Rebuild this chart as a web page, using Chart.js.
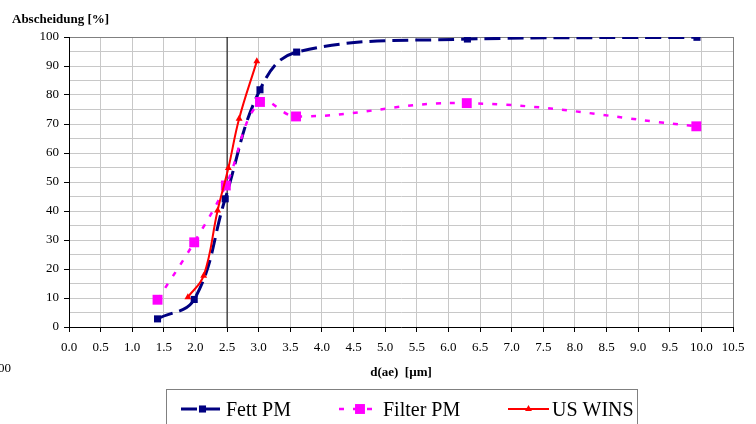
<!DOCTYPE html>
<html><head><meta charset="utf-8">
<script src="https://cdn.jsdelivr.net/npm/chart.js@4/dist/chart.umd.min.js"></script>
<style>html,body{margin:0;padding:0;background:#fff}canvas{display:block}</style>
</head><body>
<canvas id="c" width="756" height="424"></canvas>
<script>
const fettX = [1.40, 1.98, 2.47, 3.02, 3.60, 6.30, 9.93];
const fettY = [2.8, 9.5, 44.2, 81.8, 94.8, 99.3, 99.9];
const filterX = [1.40, 1.98, 2.48, 3.02, 3.59, 6.29, 9.92];
const filterY = [9.4, 29.2, 48.8, 77.6, 72.6, 77.2, 69.2];
const winsX = [1.88, 2.13, 2.35, 2.52, 2.69, 2.97];
const winsY = [10.3, 17.7, 40.2, 54.8, 71.8, 91.6];
const refLineX = 2.5;
const refLineY = [0, 100];
const seriesNames = ['Fett PM', 'Filter PM', 'US WINS'];
const yTitle = 'Abscheidung [%]';
const xTitle = 'd(ae)  [µm]';

const pts = (xs, ys) => xs.map((x, i) => ({x: x, y: ys[i]}));
const SERIF = '"Liberation Serif", "Times New Roman", serif';

const datasets = [
  {label: seriesNames[0], data: pts(fettX, fettY), borderColor: '#000080', backgroundColor: '#000080',
   borderWidth: 3, borderDash: [16, 7], tension: 0.4, pointStyle: 'rect', pointRadius: 5,
   pointBorderWidth: 0, order: 3},
  {label: seriesNames[1], data: pts(filterX, filterY), borderColor: '#FF00FF', backgroundColor: '#FF00FF',
   borderWidth: 2.5, borderDash: [5, 9], tension: 0.4, pointStyle: 'rect', pointRadius: 7,
   pointBorderWidth: 0, order: 2},
  {label: seriesNames[2], data: pts(winsX, winsY), borderColor: '#FF0000', backgroundColor: '#FF0000',
   borderWidth: 2, tension: 0.4, pointStyle: 'triangle', pointRadius: 4,
   pointBorderWidth: 0, order: 1},
  {label: 'ref', data: refLineY.map(y => ({x: refLineX, y: y})), borderColor: '#000', borderWidth: 1,
   pointRadius: 0, tension: 0, order: 4}
];

const legendItems = [
  {ds: 0, x0: 181, x1: 224, tx: 226},
  {ds: 1, x0: 339, x1: 381, tx: 383},
  {ds: 2, x0: 508, x1: 549, tx: 552}
];

function drawMarker(ctx, ds, x, y) {
  ctx.save();
  ctx.fillStyle = ds.backgroundColor;
  ctx.setLineDash([]);
  const r = ds.pointRadius;
  if (ds.pointStyle === 'rect') {
    const s = Math.SQRT1_2 * r;
    ctx.fillRect(x - s, y - s, 2 * s, 2 * s);
  } else {
    ctx.beginPath();
    ctx.moveTo(x - r * 0.866, y + r * 0.5);
    ctx.lineTo(x, y - r);
    ctx.lineTo(x + r * 0.866, y + r * 0.5);
    ctx.closePath();
    ctx.fill();
  }
  ctx.restore();
}

const decor = {
  id: 'decor',
  beforeDraw(chart) {
    const ctx = chart.ctx;
    ctx.save();
    ctx.fillStyle = '#fff';
    ctx.fillRect(0, 0, chart.width, chart.height);
    ctx.restore();
  },
  afterDraw(chart) {
    const ctx = chart.ctx;
    const ca = chart.chartArea;
    ctx.save();
    ctx.fillStyle = '#000';
    ctx.textBaseline = 'alphabetic';
    ctx.font = 'bold 13px ' + SERIF;
    ctx.textAlign = 'left';
    ctx.fillText(yTitle, 12, 23);
    ctx.textAlign = 'center';
    ctx.fillText(xTitle, (ca.left + ca.right) / 2, 376);
    ctx.font = '13px ' + SERIF;
    ctx.textAlign = 'right';
    ctx.fillText('100', 11, 372);
    ctx.strokeStyle = '#808080';
    ctx.lineWidth = 1;
    ctx.strokeRect(166.5, 389.5, 471, 50);
    ctx.font = '20px ' + SERIF;
    ctx.textAlign = 'left';
    const ly = 409;
    legendItems.forEach(it => {
      const ds = chart.data.datasets[it.ds];
      ctx.save();
      ctx.strokeStyle = ds.borderColor;
      ctx.lineWidth = ds.borderWidth;
      ctx.setLineDash(ds.borderDash || []);
      ctx.beginPath();
      ctx.moveTo(it.x0, ly);
      ctx.lineTo(it.x1, ly);
      ctx.stroke();
      ctx.restore();
      drawMarker(ctx, ds, (it.x0 + it.x1) / 2, ly);
      ctx.fillStyle = '#000';
      ctx.fillText(ds.label, it.tx, 416);
    });
    ctx.restore();
  }
};

new Chart(document.getElementById('c'), {
  type: 'line',
  data: {datasets: datasets},
  plugins: [decor],
  options: {
    responsive: false,
    animation: false,
    events: [],
    layout: {padding: {top: 37, right: 23, left: 0, bottom: 0}},
    plugins: {legend: {display: false}, tooltip: {enabled: false}, title: {display: false}},
    scales: {
      x: {
        type: 'linear', min: 0, max: 10.5,
        ticks: {stepSize: 0.5, autoSkip: false, maxRotation: 0, padding: 8, color: '#000',
                font: {family: SERIF, size: 13}, callback: v => Number(v).toFixed(1)},
        grid: {color: c => (c.tick && Math.abs(c.tick.value - 10.5) < 1e-6) ? '#808080' : '#c8c8c8',
               tickColor: '#000', tickLength: 5, lineWidth: 1},
        border: {color: '#000', width: 1},
        afterFit: s => { s.height = 97; s.paddingLeft = 0; s.paddingRight = 0; }
      },
      y: {
        type: 'linear', min: 0, max: 100,
        ticks: {stepSize: 5, autoSkip: false, padding: 5, color: '#000',
                font: {family: SERIF, size: 13}, callback: v => (v % 10 === 0 ? String(v) : '')},
        grid: {color: c => (c.tick && c.tick.value === 100) ? '#808080' : '#c8c8c8',
               tickColor: c => (c.tick && c.tick.value % 10 === 0) ? '#000' : 'rgba(0,0,0,0)',
               tickLength: 5, lineWidth: 1},
        border: {color: '#000', width: 1},
        afterFit: s => { s.width = 69; s.paddingTop = 0; s.paddingBottom = 0; }
      }
    }
  }
});
</script>
</body></html>
